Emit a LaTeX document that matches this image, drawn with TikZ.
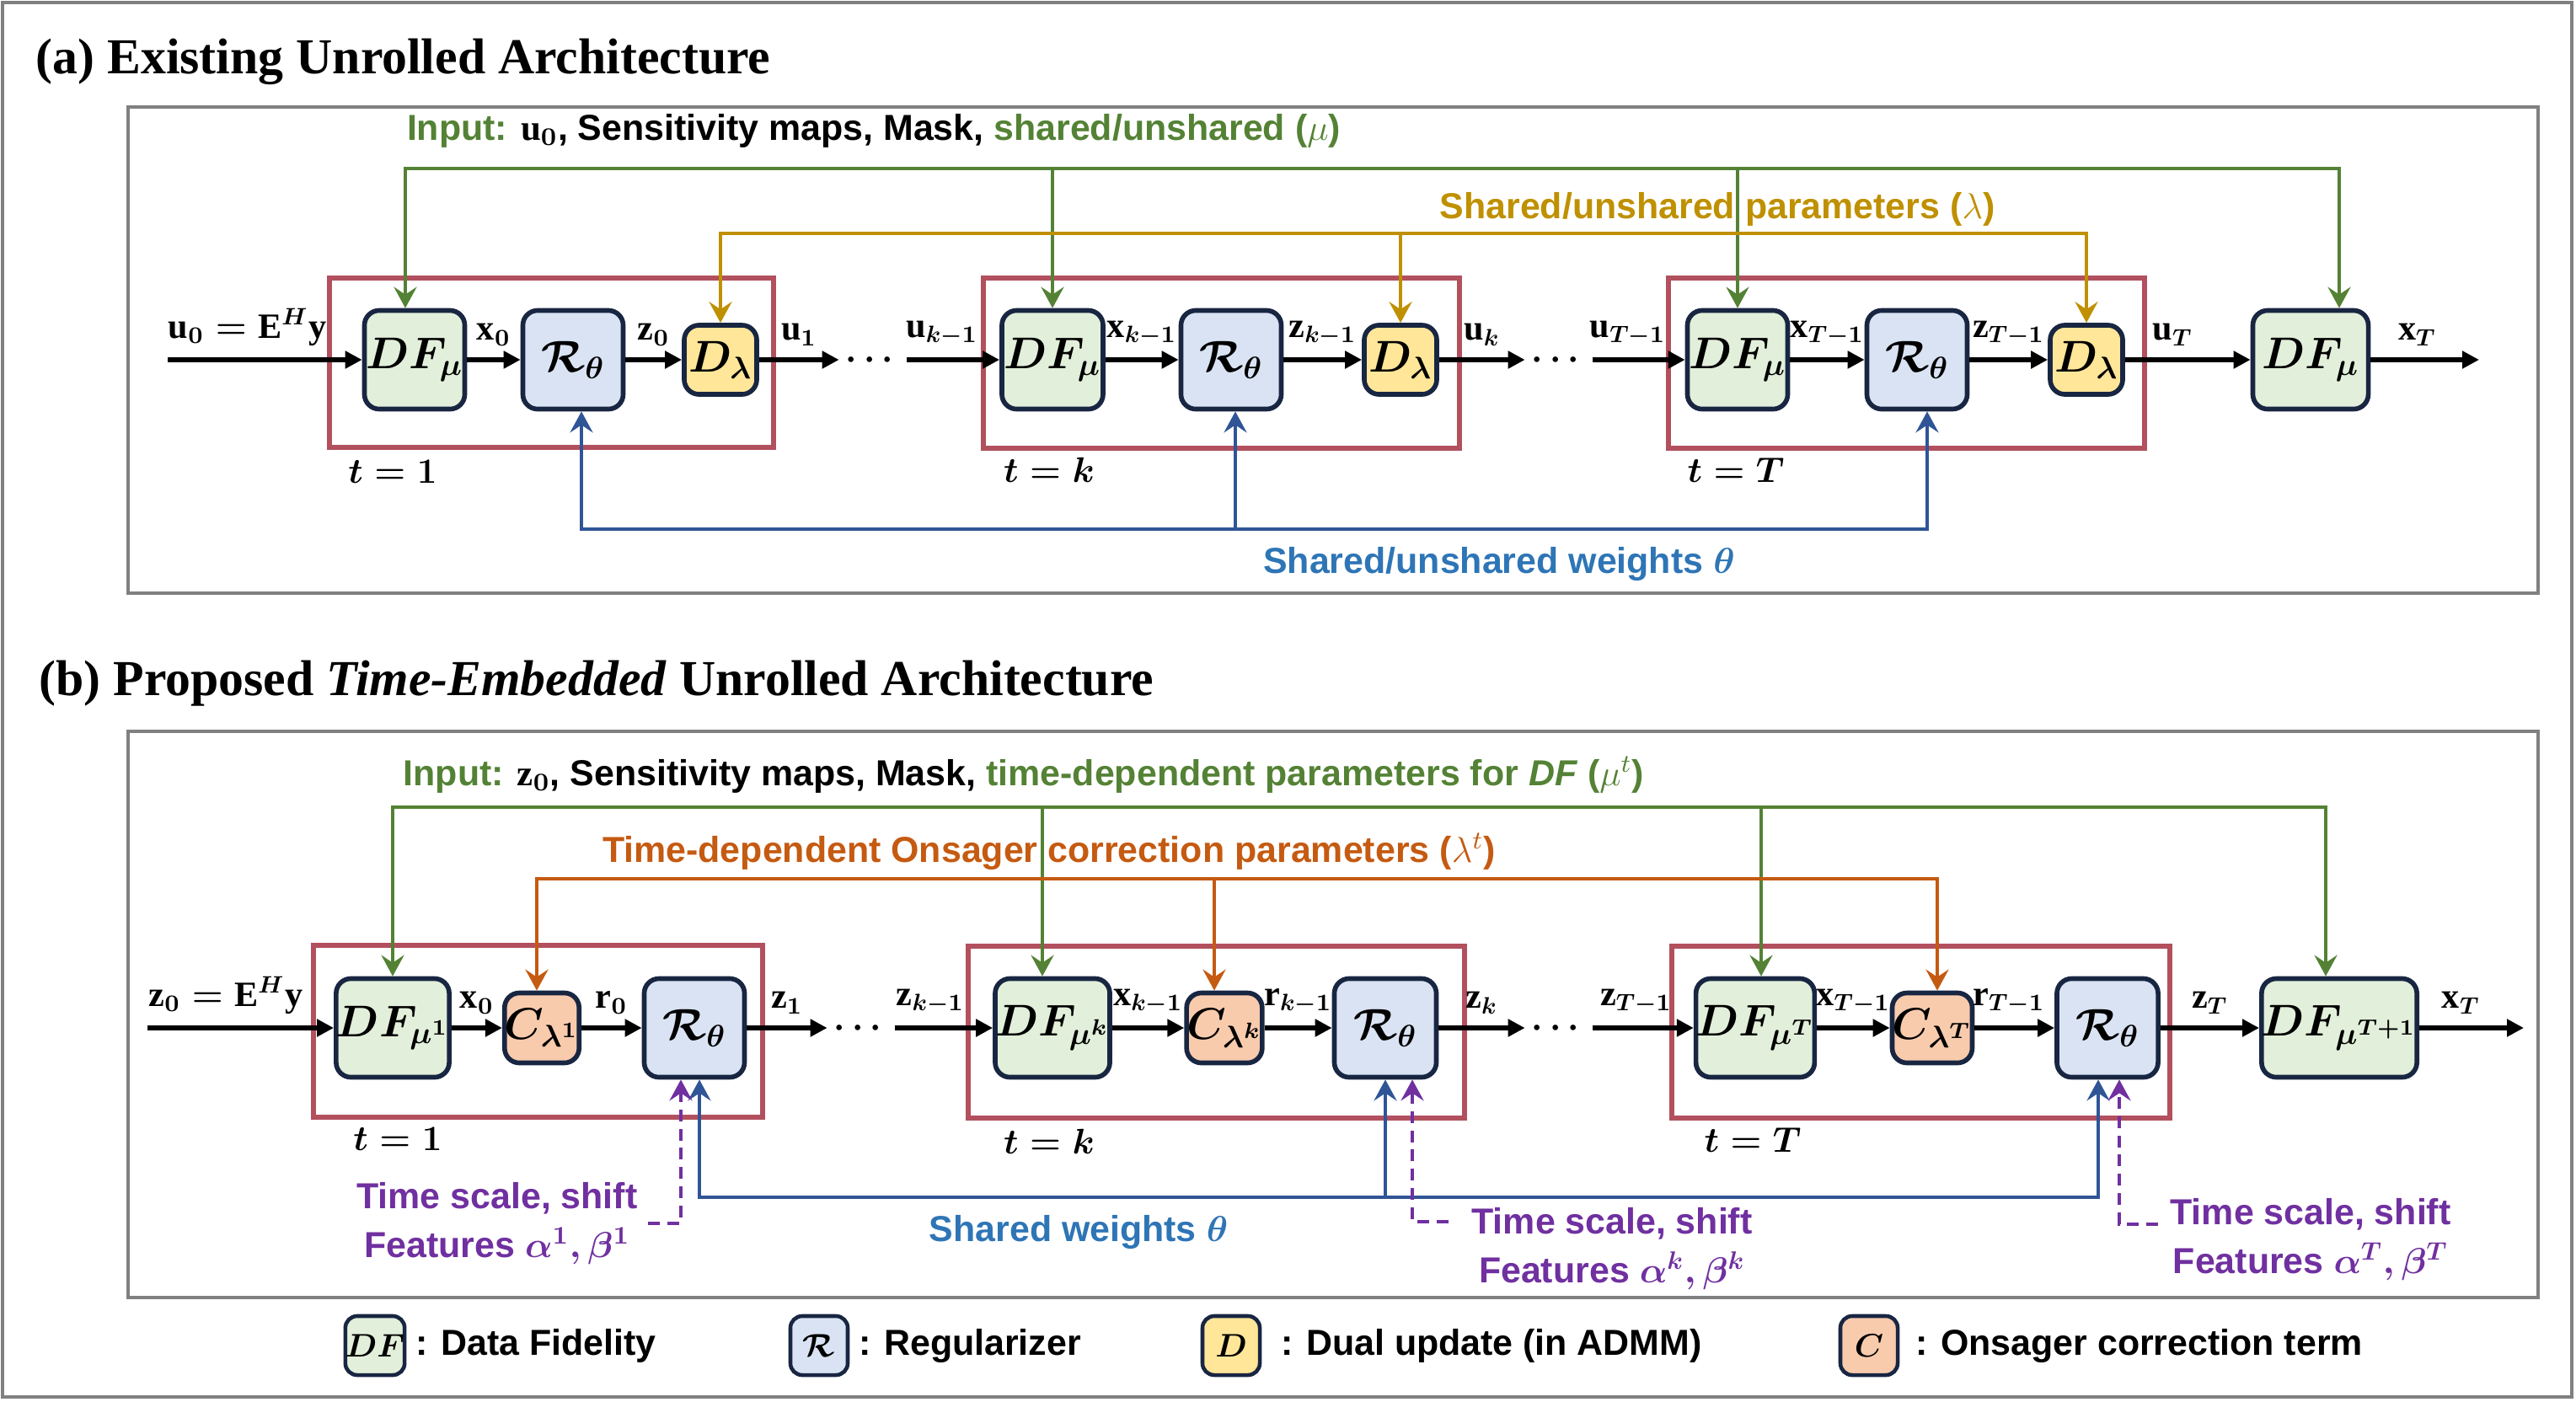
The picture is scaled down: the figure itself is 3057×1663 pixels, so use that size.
\documentclass[tikz,border=0pt]{standalone}
\usepackage{fix-cm}
\usepackage{amsmath,amssymb}
\usepackage{fontspec}
\setmainfont{Liberation Serif}
\setsansfont{Liberation Sans}
\usepackage{bm}
\definecolor{urgreen}{RGB}{84,130,53}
\definecolor{urgold}{RGB}{191,144,0}
\definecolor{urorange}{RGB}{197,90,17}
\definecolor{urblue}{RGB}{47,85,151}
\definecolor{urbluetext}{RGB}{46,117,182}
\definecolor{urpurple}{RGB}{112,48,160}
\definecolor{urred}{RGB}{178,80,94}
\definecolor{urgray}{RGB}{128,128,128}
\definecolor{urnavy}{RGB}{24,38,66}
\definecolor{urdffill}{RGB}{226,239,218}
\definecolor{urregfill}{RGB}{218,227,243}
\definecolor{urdualfill}{RGB}{255,230,153}
\definecolor{uronsfill}{RGB}{248,203,173}
\usetikzlibrary{arrows.meta,positioning,calc}

\begin{document}
\begin{tikzpicture}[x=0.01cm, y=-0.01cm,
  blk/.style={rectangle, rounded corners=5pt, draw=urnavy, line width=1.6pt,
    inner sep=0pt, font=\fontsize{15}{17}\selectfont\boldmath},
  dfblk/.style={blk, fill=urdffill, minimum width=1.19cm, minimum height=1.17cm},
  regblk/.style={blk, fill=urregfill, minimum width=1.19cm, minimum height=1.17cm},
  dualblk/.style={blk, fill=urdualfill, minimum width=0.86cm, minimum height=0.82cm},
  onsblk/.style={blk, fill=uronsfill, minimum width=0.87cm, minimum height=0.83cm},
  keyblk/.style={blk, minimum width=0.68cm, minimum height=0.70cm, rounded corners=4pt,
    line width=1.3pt, font=\fontsize{11}{13}\selectfont\boldmath},
  stepframe/.style={draw=urred, line width=1.9pt},
  panel/.style={draw=urgray, line width=1.3pt},
  sig/.style={-{Triangle[length=0.2cm,width=0.2cm]}, line width=1.5pt},
  sigl/.style={above=4pt, inner sep=0pt, font=\fontsize{12}{14}\selectfont\boldmath},
  dots/.style={inner sep=0pt, outer sep=0.08cm, font=\fontsize{12}{14}\selectfont\boldmath},
  steplab/.style={inner sep=0pt, font=\fontsize{12}{14}\selectfont\boldmath},
  feed/.style={line width=1.1pt,
    {Stealth[length=0.25cm,width=0.27cm,inset=0.09cm]}-{Stealth[length=0.25cm,width=0.27cm,inset=0.09cm]}},
  feedone/.style={line width=1.1pt, -{Stealth[length=0.25cm,width=0.27cm,inset=0.09cm]}},
  timefeat/.style={feedone, dash pattern=on 4pt off 2.5pt},
  txt/.style={inner sep=0pt, font=\sffamily\bfseries\fontsize{12.2}{16.5}\selectfont},
  ttl/.style={inner sep=0pt, anchor=base west, font=\bfseries\fontsize{17}{20}\selectfont}
]
\useasboundingbox (0,0) rectangle (3057,1663);

\draw[panel] (3,3) rectangle (3052,1658);
\draw[panel] (152,127) rectangle (3012,704);
\draw[panel] (152,868) rectangle (3012,1540);

\node[ttl] (ttlA) at (42,87) {(a) Existing Unrolled Architecture};
\node[ttl] (ttlB) at (46,825) {(b) Proposed \textit{Time-Embedded} Unrolled Architecture};

\draw[stepframe] (391,330) rectangle (918,531);
\draw[stepframe] (1167,330) rectangle (1732,532);
\draw[stepframe] (1980,330) rectangle (2545,532);
\draw[stepframe] (372,1122) rectangle (905,1326);
\draw[stepframe] (1149,1123) rectangle (1738,1327);
\draw[stepframe] (1984,1123) rectangle (2575,1327);

\node[dfblk]                       (aDF1) at (492,427)  {$DF_{\mu}$};
\node[regblk]                      (aR1)  at (680,427)  {$\mathcal{R}_{\theta}$};
\node[dualblk]                     (aD1)  at (855,427)  {$D_{\lambda}$};
\node[dots]                        (aDot1) at (1036,427) {$\cdots$};
\node[dfblk, minimum width=1.20cm] (aDFk) at (1249,427) {$DF_{\mu}$};
\node[regblk]                      (aRk)  at (1461,427) {$\mathcal{R}_{\theta}$};
\node[dualblk]                     (aDk)  at (1662,427) {$D_{\lambda}$};
\node[dots]                        (aDot2) at (1850,427) {$\cdots$};
\node[dfblk]                       (aDFT) at (2062,427) {$DF_{\mu}$};
\node[regblk]                      (aRT)  at (2275,427) {$\mathcal{R}_{\theta}$};
\node[dualblk]                     (aDT)  at (2476,427) {$D_{\lambda}$};
\node[dfblk, minimum width=1.37cm] (aDFe) at (2742,427) {$DF_{\mu}$};

\coordinate (aIn) at (199,427);
\coordinate (aOut) at (2942,427);
\draw[sig] (aIn) -- node[sigl, pos=0.41] {$\mathrm{u}_0=\mathrm{E}^{H}\mathrm{y}$} (aDF1);
\draw[sig] (aDF1) -- node[sigl] {$\mathrm{x}_0$} (aR1);
\draw[sig] (aR1) -- node[sigl] {$\mathrm{z}_0$} (aD1);
\draw[sig] (aD1) -- node[sigl] {$\mathrm{u}_1$} (aDot1);
\draw[sig] (aDot1) -- node[sigl, pos=0.38] {$\mathrm{u}_{k-1}$} (aDFk);
\draw[sig] (aDFk) -- node[sigl] {$\mathrm{x}_{k-1}$} (aRk);
\draw[sig] (aRk) -- node[sigl] {$\mathrm{z}_{k-1}$} (aDk);
\draw[sig] (aDk) -- node[sigl] {$\mathrm{u}_k$} (aDot2);
\draw[sig] (aDot2) -- node[sigl, pos=0.38] {$\mathrm{u}_{T-1}$} (aDFT);
\draw[sig] (aDFT) -- node[sigl] {$\mathrm{x}_{T-1}$} (aRT);
\draw[sig] (aRT) -- node[sigl] {$\mathrm{z}_{T-1}$} (aDT);
\draw[sig] (aDT) -- node[sigl, pos=0.38] {$\mathrm{u}_T$} (aDFe);
\draw[sig] (aDFe) -- node[sigl, pos=0.43] {$\mathrm{x}_T$} (aOut);

\coordinate (agBus) at (2776,200);
\coordinate (ayBus) at (0,277);
\coordinate (abBus) at (0,628);
\draw[feed, draw=urgreen] ([xshift=-0.11cm]aDF1.north) |- (agBus) -- (agBus |- aDFe.north);
\draw[feedone, draw=urgreen] (aDFk.north |- agBus) -- (aDFk.north);
\draw[feedone, draw=urgreen] (aDFT.north |- agBus) -- (aDFT.north);
\draw[feed, draw=urgold] (aD1.north) |- (aDT.north |- ayBus) -- (aDT.north);
\draw[feedone, draw=urgold] (aDk.north |- ayBus) -- (aDk.north);
\draw[feed, draw=urblue] ([xshift=0.1cm]aR1.south) |- ([xshift=0.12cm]aRT.south |- abBus) -- ([xshift=0.12cm]aRT.south);
\draw[feedone, draw=urblue] ([xshift=0.05cm]aRk.south |- abBus) -- ([xshift=0.05cm]aRk.south);

\node[txt, anchor=base] (agTxt) at (1037,166) {\textcolor{urgreen}{Input:} {\boldmath$\mathrm{u}_0$}, Sensitivity maps, Mask, \textcolor{urgreen}{shared/unshared ($\mu$)}};
\node[txt, anchor=base, text=urgold] (ayTxt) at (2038,259) {Shared/unshared parameters ($\lambda$)};
\node[txt, anchor=base, text=urbluetext] (abTxt) at (1779,680) {Shared/unshared weights {\boldmath$\theta$}};

\node[steplab] (at1) at (466,560) {$t=1$};
\node[steplab] (atk) at (1245,558) {$t=k$};
\node[steplab] (atT) at (2060,558) {$t=T$};

\node[dfblk]                       (bDF1) at (466,1220)  {$DF_{\mu^1}$};
\node[onsblk]                      (bC1)  at (643,1220)  {$C_{\lambda^1}$};
\node[regblk]                      (bR1)  at (824,1220)  {$\mathcal{R}_{\theta}$};
\node[dots]                        (bDot1) at (1022,1220) {$\cdots$};
\node[dfblk, minimum width=1.36cm] (bDFk) at (1249,1220) {$DF_{\mu^k}$};
\node[onsblk]                      (bCk)  at (1453,1220) {$C_{\lambda^k}$};
\node[regblk, minimum width=1.21cm] (bRk) at (1644,1220) {$\mathcal{R}_{\theta}$};
\node[dots]                        (bDot2) at (1850,1220) {$\cdots$};
\node[dfblk, minimum width=1.32cm] (bDFT) at (2083,1220) {$DF_{\mu^T}$};
\node[onsblk]                      (bCT)  at (2293,1220) {$C_{\lambda^T}$};
\node[regblk, minimum width=1.20cm] (bRT) at (2501,1220) {$\mathcal{R}_{\theta}$};
\node[dfblk, minimum width=1.80cm] (bDFe) at (2776,1220) {$DF_{\mu^{T+1}}$};

\coordinate (bIn) at (175,1220);
\coordinate (bOut) at (2995,1220);
\draw[sig] (bIn) -- node[sigl, pos=0.42] {$\mathrm{z}_0=\mathrm{E}^{H}\mathrm{y}$} (bDF1);
\draw[sig] (bDF1) -- node[sigl] {$\mathrm{x}_0$} (bC1);
\draw[sig] (bC1) -- node[sigl] {$\mathrm{r}_0$} (bR1);
\draw[sig] (bR1) -- node[sigl] {$\mathrm{z}_1$} (bDot1);
\draw[sig] (bDot1) -- node[sigl, pos=0.36] {$\mathrm{z}_{k-1}$} (bDFk);
\draw[sig] (bDFk) -- node[sigl] {$\mathrm{x}_{k-1}$} (bCk);
\draw[sig] (bCk) -- node[sigl] {$\mathrm{r}_{k-1}$} (bRk);
\draw[sig] (bRk) -- node[sigl] {$\mathrm{z}_k$} (bDot2);
\draw[sig] (bDot2) -- node[sigl, pos=0.43] {$\mathrm{z}_{T-1}$} (bDFT);
\draw[sig] (bDFT) -- node[sigl] {$\mathrm{x}_{T-1}$} (bCT);
\draw[sig] (bCT) -- node[sigl, pos=0.43] {$\mathrm{r}_{T-1}$} (bRT);
\draw[sig] (bRT) -- node[sigl] {$\mathrm{z}_T$} (bDFe);
\draw[sig] (bDFe) -- node[sigl, pos=0.4] {$\mathrm{x}_T$} (bOut);

\coordinate (bgBus) at (2760,958);
\coordinate (boBus) at (0,1043);
\coordinate (bbBus) at (0,1421);
\draw[feed, draw=urgreen] (bDF1.north) |- (bgBus) -- (bgBus |- bDFe.north);
\draw[feedone, draw=urgreen] ([xshift=-0.12cm]bDFk.north |- bgBus) -- ([xshift=-0.12cm]bDFk.north);
\draw[feedone, draw=urgreen] ([xshift=0.07cm]bDFT.north |- bgBus) -- ([xshift=0.07cm]bDFT.north);
\draw[feed, draw=urorange] ([xshift=-0.06cm]bC1.north) |- ([xshift=0.06cm]bCT.north |- boBus) -- ([xshift=0.06cm]bCT.north);
\draw[feedone, draw=urorange] ([xshift=-0.12cm]bCk.north |- boBus) -- ([xshift=-0.12cm]bCk.north);
\draw[feed, draw=urblue] ([xshift=0.06cm]bR1.south) |- ([xshift=-0.11cm]bRT.south |- bbBus) -- ([xshift=-0.11cm]bRT.south);
\draw[feedone, draw=urblue] (bRk.south |- bbBus) -- (bRk.south);

\node[txt, anchor=base] (bgTxt) at (1215,932) {\textcolor{urgreen}{Input:} {\boldmath$\mathrm{z}_0$}, Sensitivity maps, Mask, \textcolor{urgreen}{time-dependent parameters for \textit{DF} ($\mu^t$)}};
\node[txt, anchor=base, text=urorange] (boTxt) at (1245,1023) {Time-dependent Onsager correction parameters ($\lambda^t$)};
\node[txt, anchor=base, text=urbluetext] (bbTxt) at (1280,1473) {Shared weights {\boldmath$\theta$}};

\node[steplab] (bt1) at (472,1352) {$t=1$};
\node[steplab] (btk) at (1245,1355) {$t=k$};
\node[steplab] (btT) at (2080,1353) {$t=T$};

\node[txt, text=urpurple, align=center] (bp1) at (590,1452) {Time scale, shift\\Features {\boldmath$\alpha^1,\beta^1$}};
\node[txt, text=urpurple, align=center] (bpk) at (1913,1482) {Time scale, shift\\Features {\boldmath$\alpha^k,\beta^k$}};
\node[txt, text=urpurple, align=center] (bpT) at (2742,1471) {Time scale, shift\\Features {\boldmath$\alpha^T,\beta^T$}};
\draw[timefeat, draw=urpurple] ([xshift=0.12cm]bp1.east) -| ([xshift=-0.16cm]bR1.south);
\draw[timefeat, draw=urpurple] ([xshift=-0.27cm,yshift=0.32cm]bpk.west) -| ([xshift=0.32cm]bRk.south);
\draw[timefeat, draw=urpurple] ([xshift=-0.14cm,yshift=0.18cm]bpT.west) -| ([xshift=0.14cm]bRT.south);

\node[keyblk, fill=urdffill]   (kDF) at (445,1597)  {$DF$};
\node[txt, right=0.1cm of kDF]  (kDFt) {: Data Fidelity};
\node[keyblk, fill=urregfill]  (kR)  at (972,1597)  {$\mathcal{R}$};
\node[txt, right=0.1cm of kR]   (kRt) {: Regularizer};
\node[keyblk, fill=urdualfill] (kD)  at (1461,1597) {$D$};
\node[txt, right=0.22cm of kD]  (kDt) {: Dual update (in ADMM)};
\node[keyblk, fill=uronsfill]  (kC)  at (2218,1597) {$C$};
\node[txt, right=0.18cm of kC]  (kCt) {: Onsager correction term};
\end{tikzpicture}
\end{document}
